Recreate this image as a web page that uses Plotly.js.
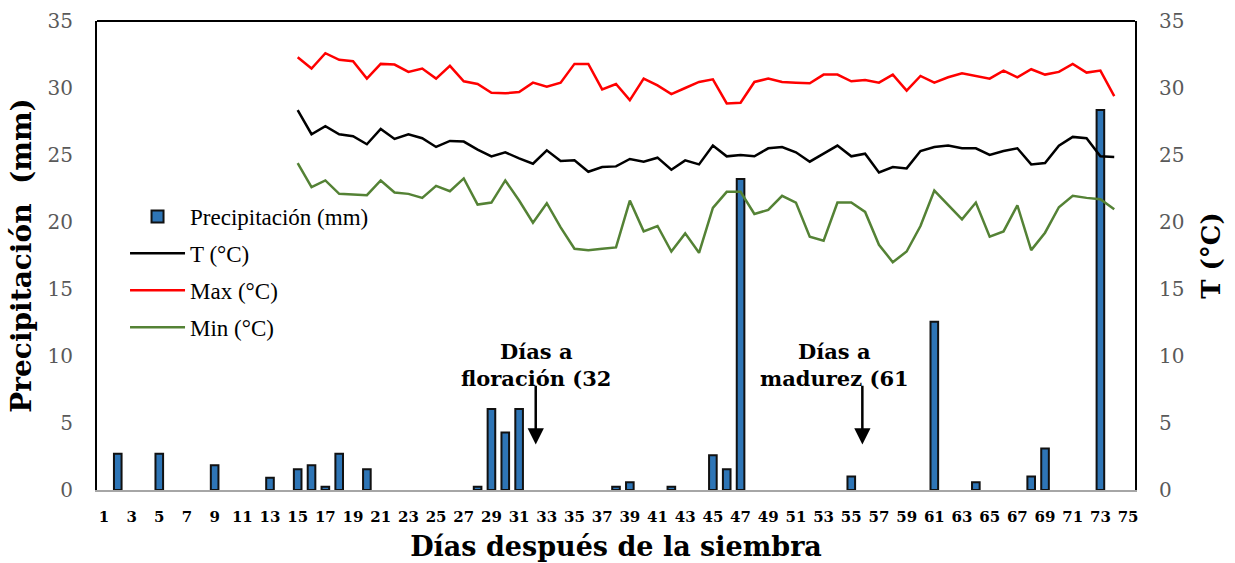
<!DOCTYPE html>
<html>
<head>
<meta charset="utf-8">
<script src="https://cdn.plot.ly/plotly-3.0.1.min.js"></script>
<style>html,body{margin:0;padding:0;background:#fff;}#chart{width:1235px;height:563px;}</style>
</head>
<body>
<div id="chart"></div>
<script>
// Precipitation (mm) per day (days without rain omitted = 0)
const precipDays = [2, 5, 9, 13, 15, 16, 17, 18, 20, 28, 29, 30, 31, 38, 39, 42, 45, 46, 47, 55, 61, 64, 68, 69, 73];
const precipMm   = [2.7, 2.7, 1.85, 0.92, 1.55, 1.85, 0.25, 2.7, 1.55, 0.25, 6.05, 4.3, 6.05, 0.25, 0.57, 0.25, 2.6, 1.55, 23.2, 1.0, 12.55, 0.57, 1.0, 3.1, 28.35];

// Temperature days (15 to 74)
const tempDays = [15,16,17,18,19,20,21,22,23,24,25,26,27,28,29,30,31,32,33,34,35,
                  36,37,38,39,40,41,42,43,44,45,46,47,48,49,50,51,52,53,54,55,
                  56,57,58,59,60,61,62,63,64,65,66,67,68,69,70,71,72,73,74];
const tMean = [28.35,26.55,27.15,26.55,26.4,25.8,26.95,26.2,26.55,26.25,25.6,26.05,26.0,25.4,24.9,25.2,24.75,24.35,25.35,24.55,24.6,
               23.75,24.1,24.15,24.7,24.5,24.8,23.9,24.6,24.3,25.7,
               24.9,25.0,24.9,25.5,25.6,25.2,24.5,25.1,25.7,24.9,
               25.1,23.7,24.1,24.0,25.3,25.6,25.7,25.5,25.5,25.0,
               25.3,25.5,24.3,24.4,25.7,26.35,26.25,24.9,24.85];
const tMax = [32.3,31.45,32.6,32.1,32.0,30.7,31.8,31.75,31.2,31.45,30.7,31.65,30.5,30.3,29.65,29.6,29.7,30.4,30.1,30.4,31.8,
              31.8,29.9,30.3,29.1,30.7,30.2,29.55,30.0,30.45,30.65,
              28.85,28.9,30.45,30.7,30.45,30.4,30.35,31.0,31.0,30.5,
              30.6,30.4,31.0,29.8,30.9,30.4,30.8,31.1,30.9,30.7,
              31.3,30.8,31.4,31.0,31.2,31.8,31.15,31.3,29.4];
const tMin = [24.4,22.6,23.1,22.1,22.05,22.0,23.1,22.2,22.1,21.8,22.7,22.3,23.25,21.3,21.45,23.1,21.6,19.95,21.4,19.6,18.0,
              17.9,18.0,18.1,21.6,19.3,19.7,17.8,19.15,17.7,21.05,
              22.25,22.25,20.6,20.9,21.95,21.45,18.9,18.6,21.45,21.45,
              20.75,18.3,17.0,17.8,19.7,22.35,21.3,20.2,21.45,18.9,
              19.3,21.25,17.9,19.2,21.1,21.95,21.8,21.7,20.95];

const xTickVals = [1,3,5,7,9,11,13,15,17,19,21,23,25,27,29,31,33,35,37,39,41,43,45,47,49,51,53,55,57,59,61,63,65,67,69,71,73,75];
const yTickVals = [0,5,10,15,20,25,30,35];

const serif = 'DejaVu Serif, Liberation Serif, serif';
const legendFont = 'Liberation Serif, Times New Roman, serif';

const traces = [
  {type:'bar', name:'Precipitación (mm)', x:precipDays, y:precipMm, width:0.55,
   marker:{color:'#2e75b6', line:{color:'#111', width:2}}, yaxis:'y', legendgroup:'a'},
  {type:'scatter', mode:'lines', name:'T (°C)', x:tempDays, y:tMean, yaxis:'y2',
   line:{color:'#000000', width:2.5}, legendgroup:'b'},
  {type:'scatter', mode:'lines', name:'Max (°C)', x:tempDays, y:tMax, yaxis:'y2',
   line:{color:'#ff0000', width:2.5}, legendgroup:'c'},
  {type:'scatter', mode:'lines', name:'Min (°C)', x:tempDays, y:tMin, yaxis:'y2',
   line:{color:'#548235', width:2.5}, legendgroup:'d'}
];

const layout = {
  width:1235, height:563,
  margin:{l:97, r:100, t:21, b:73},
  paper_bgcolor:'#fff', plot_bgcolor:'#fff',
  showlegend:true,
  legend:{x:0.027, y:0.629, xanchor:'left', yanchor:'top', bgcolor:'rgba(0,0,0,0)',
          font:{family:legendFont, size:23, color:'#000'}, tracegroupgap:4, traceorder:'grouped',
          itemwidth:55},
  xaxis:{range:[0.5,75.5], tickvals:xTickVals, ticktext:xTickVals.map(String),
         showgrid:false, zeroline:false, showline:true, linecolor:'#a6a6a6', linewidth:2,
         ticks:'', ticklabelstandoff:12,
         tickfont:{family:serif, size:15, color:'#000', weight:'bold'},
         title:{text:'<b>Días después de la siembra</b>', font:{family:serif, size:27, color:'#000'}, standoff:12}},
  yaxis:{range:[0,35], tickvals:yTickVals, showgrid:false, zeroline:false,
         showline:true, linecolor:'#000', linewidth:2, ticks:'', ticklabelstandoff:18,
         tickfont:{family:serif, size:20, color:'#595959'},
         title:{text:'<b>Precipitación  (mm)</b>', font:{family:serif, size:28, color:'#000'}, standoff:8}},
  yaxis2:{range:[0,35], tickvals:yTickVals, overlaying:'y', side:'right', showgrid:false, zeroline:false,
          showline:true, linecolor:'#000', linewidth:2, ticks:'', ticklabelstandoff:18,
          tickfont:{family:serif, size:20, color:'#595959'},
          title:{text:'<b>T (°C)</b>', font:{family:serif, size:26, color:'#000'}, standoff:18}},
  shapes:[
    {type:'line', xref:'paper', yref:'paper', x0:0, x1:1, y0:1, y1:1, line:{color:'#000', width:2}}
  ],
  annotations:[
    {xref:'x', yref:'y', x:32.2, y:9.3, text:'<b>Días a<br>floración (32</b>', showarrow:false,
     font:{family:serif, size:21, color:'#000'}, align:'center'},
    {xref:'x', yref:'y', x:32.2, y:3.4, ax:32.2, ay:7.9, axref:'x', ayref:'y', text:'', showarrow:true,
     arrowhead:2, arrowsize:1.3, arrowwidth:2.5, arrowcolor:'#000'},
    {xref:'x', yref:'y', x:53.8, y:9.3, text:'<b>Días a<br>madurez (61</b>', showarrow:false,
     font:{family:serif, size:21, color:'#000'}, align:'center'},
    {xref:'x', yref:'y', x:55.8, y:3.4, ax:55.8, ay:7.9, axref:'x', ayref:'y', text:'', showarrow:true,
     arrowhead:2, arrowsize:1.3, arrowwidth:2.5, arrowcolor:'#000'}
  ]
};

Plotly.newPlot('chart', traces, layout, {displayModeBar:false, staticPlot:true});
</script>
</body>
</html>
